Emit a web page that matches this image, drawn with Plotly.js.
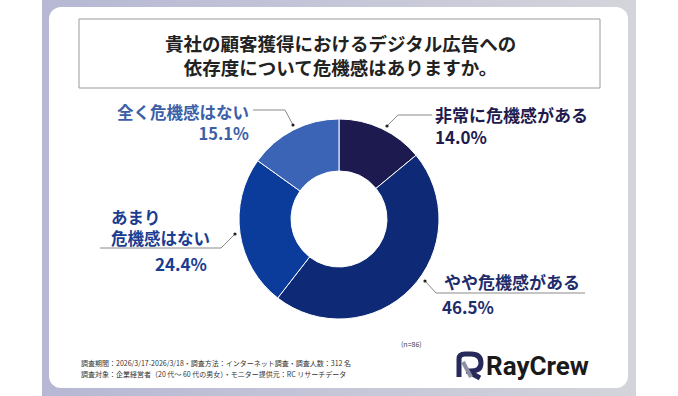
<!DOCTYPE html>
<html>
<head>
<meta charset="utf-8">
<script src="https://cdn.plot.ly/plotly-3.0.1.min.js"></script>
<style>
  html, body { margin:0; padding:0; background:#ffffff; }
  #frame { position:absolute; left:42px; top:0px; width:594px; height:396px;
           background:linear-gradient(to right, #b6b8d4, #d4d4db); }
  #card { position:absolute; left:49px; top:7px; width:579px; height:381px;
          background:#ffffff; border-radius:12px; }
  #chart { position:absolute; left:0; top:0; width:678px; height:396px; }
</style>
</head>
<body>
<div id="frame"></div>
<div id="card"></div>
<div id="chart"></div>
<script>
// ---- data ----
const categories = ['非常に危機感がある', 'やや危機感がある', 'あまり危機感はない', '全く危機感はない'];
const values = [14.0, 46.5, 24.4, 15.1];
const sliceColors = ['#1d1a50', '#0e2a76', '#0b3c9c', '#3b64b6'];
const labelColors = ['#1e1b4f', '#1f2c6c', '#1a3d92', '#3c5fa7'];
const titleLines = ['貴社の顧客獲得におけるデジタル広告への', '依存度について危機感はありますか。'];
const sampleNote = '(n=86)';
const footerLines = [
  '調査期間：2026/3/17-2026/3/18・調査方法：インターネット調査・調査人数：312 名',
  '調査対象：企業経営者（20 代～ 60 代の男女）・モニター提供元：RC リサーチデータ'
];
const brand = 'RayCrew';

// ---- helpers (pixel -> paper) ----
const W = 678, H = 396;
const px = x => x / W;
const py = y => 1 - y / H;
const pathPx = pts => pts.map(p => p[0] + px(p[1]) + ',' + py(p[2])).join(' ');

const FONT = '"Noto Sans CJK JP", "Noto Sans", sans-serif';
const pct = v => v.toFixed(1) + '%';

const trace = {
  type: 'pie',
  labels: categories,
  values: values,
  sort: false,
  direction: 'clockwise',
  rotation: 0,
  hole: 0.48,
  marker: { colors: sliceColors, line: { color: '#ffffff', width: 1 } },
  textinfo: 'none',
  hoverinfo: 'label+percent',
  showlegend: false,
  domain: { x: [px(239), px(439)], y: [py(319), py(119)] }
};

const ann = [];
function addText(text, x, y, color, size, xanchor) {
  ann.push({ text: '<b>' + text + '</b>', xref: 'paper', yref: 'paper', x: px(x), y: py(y),
    xanchor: xanchor || 'left', yanchor: 'middle', showarrow: false,
    align: xanchor || 'left',
    font: { family: FONT, size: size, color: color } });
}
// title
ann.push({ text: '<b>' + titleLines.join('<br>') + '</b>', xref: 'paper', yref: 'paper',
  x: px(340), y: py(55), xanchor: 'center', yanchor: 'middle', showarrow: false,
  font: { family: FONT, size: 18.5, color: '#222222' }, align: 'center' });

// slice labels
addText(categories[0] + '<br>' + pct(values[0]), 433, 126, labelColors[0], 17, 'left');
addText(categories[1], 442, 281, labelColors[1], 17, 'left');
addText(pct(values[1]), 440, 306, labelColors[1], 17, 'left');
addText('あまり<br>危機感はない', 109, 227, labelColors[2], 16.5, 'left');
addText(pct(values[2]), 209, 263, labelColors[2], 17, 'right');
addText(categories[3] + '<br>' + pct(values[3]), 251, 122, labelColors[3], 16.5, 'right');

// footer
ann.push({ text: sampleNote, xref: 'paper', yref: 'paper', x: px(399), y: py(344),
  xanchor: 'left', yanchor: 'middle', showarrow: false,
  font: { family: FONT, size: 7, color: '#444444' } });
footerLines.forEach((t, i) => {
  ann.push({ text: t, xref: 'paper', yref: 'paper', x: px(79), y: py(363 + i * 11),
    xanchor: 'left', yanchor: 'middle', showarrow: false,
    font: { family: FONT, size: 7, color: '#333333' } });
});
// brand
ann.push({ text: '<b>' + brand + '</b>', xref: 'paper', yref: 'paper', x: px(484), y: py(366),
  xanchor: 'left', yanchor: 'middle', showarrow: false,
  font: { family: 'Roboto, "DejaVu Sans", sans-serif', size: 26, color: '#1a1a1a' } });

// shapes
const shapes = [];
// title box
shapes.push({ type: 'rect', xref: 'paper', yref: 'paper', x0: px(79), x1: px(600), y0: py(88), y1: py(19),
  line: { color: '#9a9a9a', width: 1 }, fillcolor: 'rgba(0,0,0,0)' });
function leader(pts) {
  shapes.push({ type: 'path', xref: 'paper', yref: 'paper',
    path: pts.map((p, i) => (i ? 'L' : 'M') + px(p[0]) + ',' + py(p[1])).join(' '),
    line: { color: '#8a8a8a', width: 1 } });
  const d = pts[0];
  shapes.push({ type: 'circle', xref: 'paper', yref: 'paper',
    x0: px(d[0] - 1.6), x1: px(d[0] + 1.6), y0: py(d[1] + 1.6), y1: py(d[1] - 1.6),
    fillcolor: '#222222', line: { width: 0 } });
}
leader([[387, 126], [398, 115], [432, 115]]);
leader([[425, 281], [436, 293], [585, 293]]);
leader([[235, 234], [221, 248], [100, 248]]);
leader([[293, 125], [285, 110], [253, 110]]);

// logo icon
shapes.push({ type: 'path', xref: 'paper', yref: 'paper',
  path: pathPx([['M', 459, 377], ['L', 459, 359], ['Q', 459, 354], ['', 465, 354], ['L', 471, 354],
                ['Q', 481, 354], ['', 481, 363], ['Q', 481, 371], ['', 471, 371], ['L', 467, 371], ['L', 480, 378]]),
  line: { color: '#27295a', width: 5 } });
shapes.push({ type: 'line', xref: 'paper', yref: 'paper', x0: px(463), y0: py(362), x1: px(471), y1: py(377),
  line: { color: '#8d90a3', width: 4 } });

const layout = {
  width: W, height: H,
  margin: { l: 0, r: 0, t: 0, b: 0 },
  paper_bgcolor: 'rgba(0,0,0,0)',
  plot_bgcolor: 'rgba(0,0,0,0)',
  annotations: ann,
  shapes: shapes,
  showlegend: false
};

Plotly.newPlot('chart', [trace], layout, { displayModeBar: false, staticPlot: true });
</script>
</body>
</html>
